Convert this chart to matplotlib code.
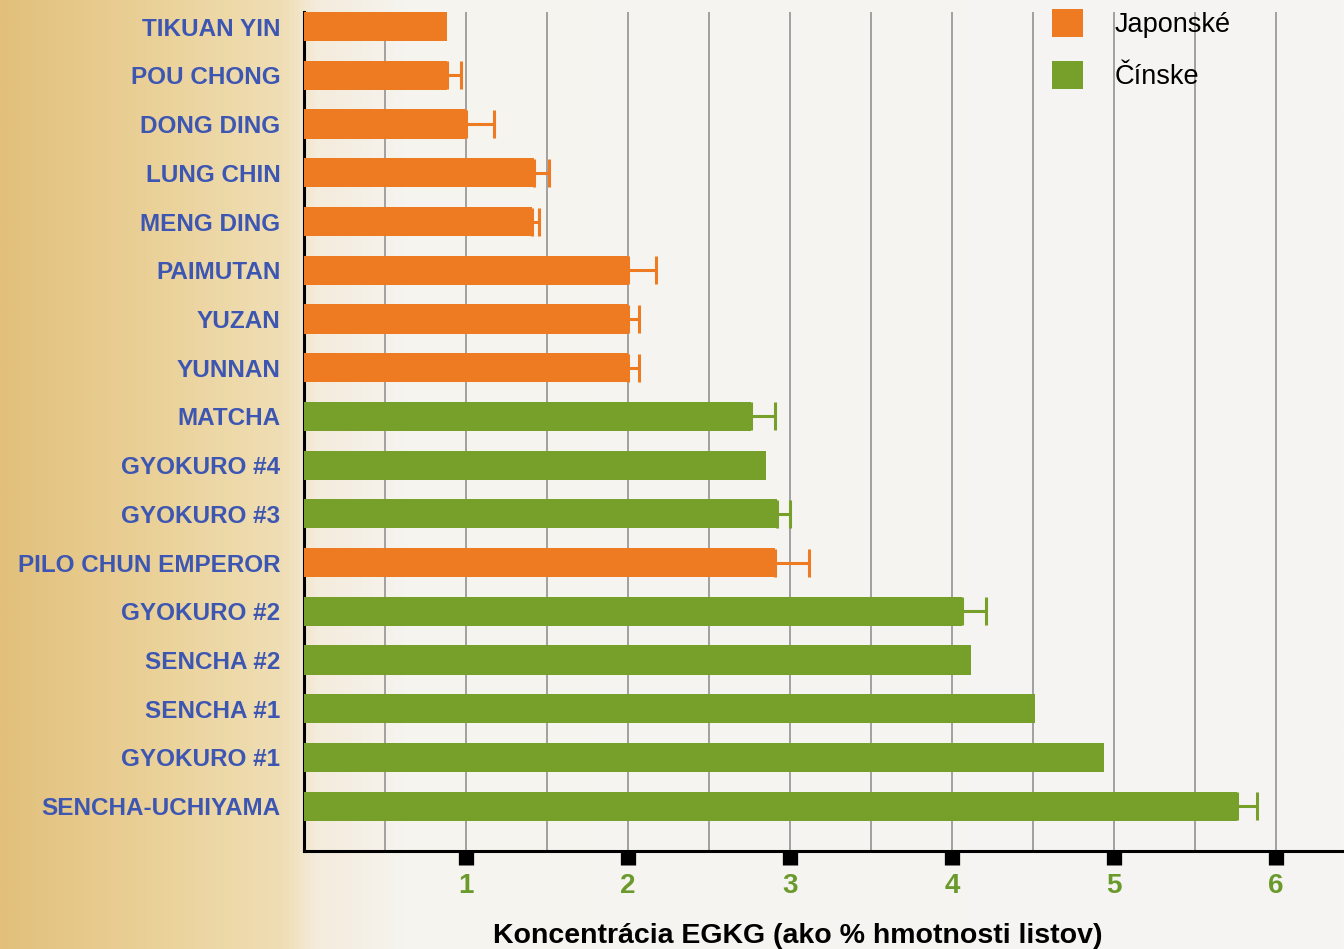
import numpy as np
import matplotlib.pyplot as plt
from matplotlib.patches import Patch
from matplotlib.ticker import MultipleLocator, FixedLocator
from matplotlib.colors import LinearSegmentedColormap

# data (top to bottom)
teas = ["TIKUAN YIN", "POU CHONG", "DONG DING", "LUNG CHIN", "MENG DING",
        "PAIMUTAN", "YUZAN", "YUNNAN", "MATCHA", "GYOKURO #4", "GYOKURO #3",
        "PILO CHUN EMPEROR", "GYOKURO #2", "SENCHA #2", "SENCHA #1",
        "GYOKURO #1", "SENCHA-UCHIYAMA"]
egcg = [0.88, 0.88, 1.00, 1.42, 1.41, 2.00, 2.00, 2.00, 2.76, 2.85, 2.92,
        2.91, 4.06, 4.12, 4.51, 4.94, 5.76]
err = [0.0, 0.09, 0.17, 0.09, 0.04, 0.17, 0.07, 0.07, 0.15, 0.0, 0.08,
       0.21, 0.15, 0.0, 0.0, 0.0, 0.12]
group = ["J", "J", "J", "J", "J", "J", "J", "J", "C", "C", "C",
         "J", "C", "C", "C", "C", "C"]
group_names = {"J": "Japonské", "C": "Čínske"}
xticks = [1, 2, 3, 4, 5, 6]

orange = "#ee7b22"
green = "#77a02a"
colors = {"J": orange, "C": green}

sans = ["Liberation Sans", "DejaVu Sans"]

fig = plt.figure(figsize=(13.44, 9.49), dpi=100)

# golden paper on the left, fading to off-white behind the plot
bg = fig.add_axes([0, 0, 1, 1], zorder=-10)
cmap = LinearSegmentedColormap.from_list(
    "paper", [(0, "#e2c07c"), (0.12, "#ebd29a"), (0.21, "#efdeb5"),
              (0.235, "#f4ecdc"), (0.3, "#f6f4ef"), (1, "#f5f5f4")])
bg.imshow(np.linspace(0, 1, 512)[None, :], aspect="auto", cmap=cmap,
          extent=[0, 1, 0, 1])
bg.axis("off")

ax = fig.add_axes([304 / 1344, 1 - 851 / 949, 1 - 304 / 1344, (851 - 12) / 949])
ax.set_facecolor("none")

y = np.arange(len(teas))
for i in range(len(teas)):
    c = colors[group[i]]
    ax.barh(y[i], egcg[i], height=0.6, color=c, zorder=3)
    if err[i] > 0:
        ax.errorbar(egcg[i], y[i], xerr=[[0], [err[i]]], fmt="none",
                    ecolor=c, elinewidth=2.2, capsize=10, capthick=2.2,
                    zorder=3)

ax.set_xlim(0, 6.42)
ax.set_ylim(16.92, -0.3)
ax.set_yticks(y)
ax.set_yticklabels(teas, fontsize=17.5, fontweight="bold", color="#3d56b2",
                   family=sans)
ax.tick_params(axis="y", length=0, pad=17)

ax.xaxis.set_major_locator(FixedLocator(xticks))
ax.xaxis.set_minor_locator(MultipleLocator(0.5))
ax.set_xticklabels([str(t) for t in xticks], fontsize=20, fontweight="bold",
                   color="#6a9a2c", family=sans)
ax.tick_params(axis="x", which="major", direction="out", length=10,
               width=11, color="black", pad=6)
ax.tick_params(axis="x", which="minor", length=0)
ax.grid(axis="x", which="both", color="#8a8a8a", linewidth=1.1, zorder=0)
ax.set_axisbelow(True)

for s in ["top", "right"]:
    ax.spines[s].set_visible(False)
ax.spines["left"].set_linewidth(2.2)
ax.spines["bottom"].set_linewidth(2.2)

fig.text(798 / 1344, 1 - 936 / 949,
         "Koncentrácia EGKG (ako % hmotnosti listov)", ha="center",
         va="center", fontsize=20.5, fontweight="bold", family=sans)

handles = [Patch(facecolor=orange, label=group_names["J"]),
           Patch(facecolor=green, label=group_names["C"])]
fig.legend(handles=handles, loc="upper left",
           bbox_to_anchor=(1052 / 1344, 1 - 9 / 949), frameon=False,
           handlelength=1.15, handleheight=1.2, labelspacing=0.85,
           handletextpad=1.15, borderpad=0, borderaxespad=0,
           prop={"family": sans, "size": 19.5})

fig.savefig("out.png", dpi=100)
